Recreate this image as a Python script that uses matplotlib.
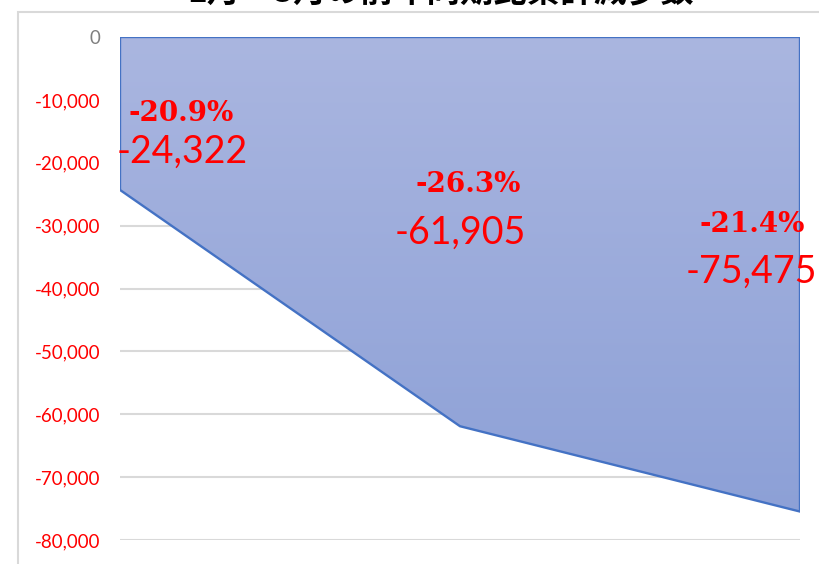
import matplotlib
matplotlib.use("Agg")
import matplotlib.pyplot as plt
import numpy as np
from matplotlib.patches import Polygon, Rectangle
from matplotlib.colors import LinearSegmentedColormap

# --- data ---
months = ["1月", "2月", "3月"]
cum_decrease = [-24322, -61905, -75475]
pct_change = ["-20.9%", "-26.3%", "-21.4%"]
yticks = [0, -10000, -20000, -30000, -40000, -50000, -60000, -70000, -80000]
title = "1月～3月の前年同期比累計減少数"

W, H = 819, 564
fig = plt.figure(figsize=(W / 100, H / 100), dpi=100)
ax = fig.add_axes([120 / W, (H - 540) / H, 680 / W, 503 / H])

x = np.arange(len(cum_decrease))

# gradient area between 0 and the line
cmap = LinearSegmentedColormap.from_list("g", ["#aab6e0", "#8b9fd6"])
grad = np.linspace(0, 1, 256).reshape(-1, 1)
img = ax.imshow(grad, cmap=cmap, aspect="auto", extent=[0, 2, -80000, 0],
                origin="upper", zorder=2)
verts = [(x[0], 0)] + list(zip(x, cum_decrease)) + [(x[-1], 0)]
poly = Polygon(verts, closed=True, fc="none", ec="#4472c4", lw=1.7, zorder=3)
ax.add_patch(poly)
img.set_clip_path(poly)

ax.set_xlim(0, 2)
ax.set_ylim(-80000, 0)
ax.set_yticks(yticks)
ax.set_yticklabels([f"{v:,.0f}" for v in yticks])
ax.set_xticks([])
ax.grid(axis="y", color="#d9d9d9", lw=1.5, zorder=1)
ax.tick_params(axis="y", length=0, pad=14, labelsize=13.5)
for lab, v in zip(ax.get_yticklabels(), yticks):
    lab.set_fontfamily("Lato")
    lab.set_color("#7f7f7f" if v == 0 else "red")
for s in ax.spines.values():
    s.set_visible(False)

# data labels (placed like the original, not on the points)
num_pos = [(-0.01, -18300, "left"), (1.0, -31200, "center"), (2.05, -37400, "right")]
pct_pos = [(0.18, -12100), (1.025, -23500), (1.86, -29900)]
for v, p, (nx, ny, ha), (px, py) in zip(cum_decrease, pct_change, num_pos, pct_pos):
    ax.text(nx, ny, f"{v:,.0f}", color="red", fontsize=27, family="Lato",
            ha=ha, va="center", zorder=5, clip_on=False)
    ax.text(px, py, p, color="red", fontsize=20, family="DejaVu Serif",
            fontweight="bold", ha="center", va="center", zorder=5)

# chart-area border and title (cut off at the top like the original)
fig.patches.append(Rectangle((18 / W, -0.1), 1.2, 1 - 12 / H + 0.1,
                             transform=fig.transFigure, fill=False,
                             ec="#d9d9d9", lw=1.5))
fig.text(441 / W, 1 - 9 / H, title, ha="center", va="bottom", fontsize=24,
         fontweight="bold", family=["Noto Sans CJK JP", "DejaVu Sans"])

fig.savefig("out.png", dpi=100)
